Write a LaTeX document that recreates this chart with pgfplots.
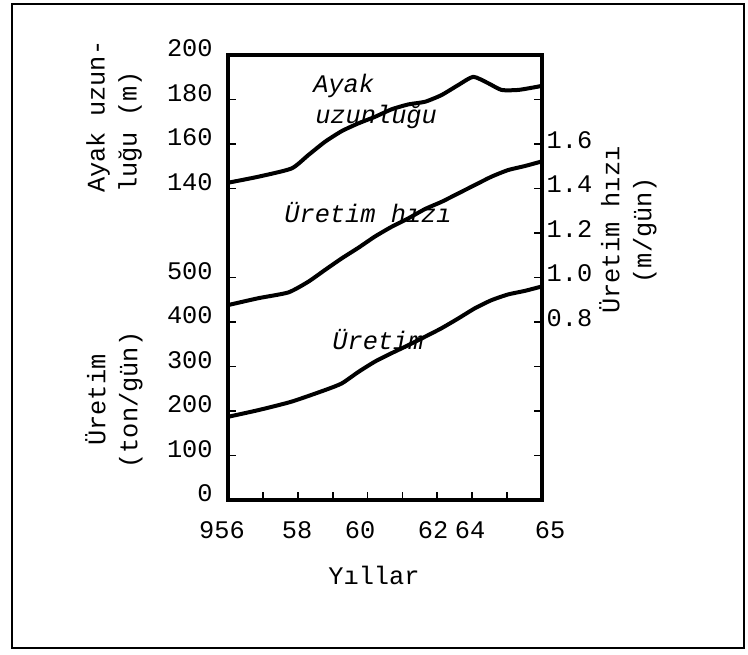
\documentclass[border=0pt]{standalone}
\usepackage{fontspec}
\setmainfont{Liberation Mono}
\usepackage{pgfplots}
\pgfplotsset{compat=1.18}
\usepackage{pgfplotstable}

% Ayak uzunlugu (m)
\pgfplotstableread{
year m
1956.00 142.6
1956.87 145.3
1957.82 149.0
1958.30 155.0
1958.78 161.0
1959.26 165.8
1959.74 169.3
1960.21 172.2
1960.69 175.6
1961.17 177.8
1961.65 179.0
1962.12 182.0
1962.60 186.5
1963.03 190.2
1963.46 187.3
1963.84 184.3
1964.32 184.3
1964.89 185.8
1965.00 186.2
}\ayak

% Uretim hizi (m/gun)
\pgfplotstableread{
year r
1956.00 0.876
1956.87 0.907
1957.73 0.933
1958.30 0.981
1958.78 1.034
1959.26 1.086
1959.74 1.134
1960.21 1.184
1960.69 1.228
1961.17 1.266
1961.65 1.308
1962.12 1.340
1962.60 1.378
1963.08 1.416
1963.55 1.453
1964.03 1.483
1964.51 1.501
1965.00 1.522
}\hiz

% Uretim (ton/gun)
\pgfplotstableread{
year t
1956.00 187
1956.87 202
1957.82 221
1958.78 247
1959.26 262
1959.74 288
1960.21 311
1960.69 330
1961.17 348
1961.65 367
1962.12 386
1962.60 408
1963.08 431
1963.55 449
1964.03 462
1964.51 470
1965.00 480
}\uretim

\pgfplotsset{
  base/.style={
    scale only axis, width=235.5pt, height=333.75pt,
    at={(171pt,-375pt)}, anchor=south west,
    xmin=1956, xmax=1965,
    tick align=inside,
    major tick length=6pt,
    tick style={line width=1.4pt, black},
    tick label style={font=\fontsize{19}{23}\selectfont},
    axis line style={line width=2.8pt},
  },
  curve/.style={black, line width=3pt, smooth, tension=0.35, line join=round, line cap=round},
}

\begin{document}
\begin{tikzpicture}
\useasboundingbox (0pt,0pt) rectangle (561pt,-490.5pt);
\draw[line width=1.4pt] (9pt,-3pt) rectangle (558pt,-486pt);

% Production axis (left, lower scale) and x axis
\begin{axis}[base,
  ymin=0, ymax=1000,
  xtick={1957,1958,1959,1960,1961,1962,1963,1964},
  xticklabels={,,,,,,,,},
  xtick pos=bottom,
  ytick={0,100,200,300,400,500},
  yticklabels={0,100,200,300,400,500},
  ytick pos=left,
  yticklabel style={xshift=-8pt, yshift=5pt},
]
\addplot[curve] table[x=year, y=t] {\uretim};
\end{axis}

% Ayak uzunlugu axis (left, upper scale)
\begin{axis}[base,
  ymin=0, ymax=200,
  hide x axis,
  axis y line*=left,
  ytick={140,160,180,200},
  yticklabels={140,160,180,200},
  yticklabel style={xshift=-8pt, yshift=5pt},
]
\addplot[curve] table[x=year, y=m] {\ayak};
\end{axis}

% Uretim hizi axis (right)
\begin{axis}[base,
  ymin=0, ymax=2,
  hide x axis,
  axis y line*=right,
  ytick={0.2,0.4,0.6,0.8,1.0,1.2,1.4,1.6,1.8},
  yticklabels={,,,0.8,1.0,1.2,1.4,1.6,},
  yticklabel style={xshift=0pt, yshift=3pt},
]
\addplot[curve] table[x=year, y=r] {\hiz};
\end{axis}

\begin{scope}[every node/.style={font=\fontsize{19}{24}\selectfont, inner sep=0pt}]
% x tick labels, placed as in the original drawing
\node at (166.5pt,-397.5pt) {956};
\node at (222.75pt,-397.5pt) {58};
\node at (270pt,-397.5pt) {60};
\node at (324.75pt,-397.5pt) {62};
\node at (352.5pt,-397.5pt) {64};
\node at (412.5pt,-397.5pt) {65};
\node[rotate=90, anchor=west, align=left] at (85.5pt,-144.75pt) {Ayak uzun-\\luğu (m)};
\node[rotate=90, align=center] at (85.5pt,-300pt) {Üretim\\(ton/gün)};
\node[rotate=90, align=center] at (471pt,-172.5pt) {Üretim hızı\\(m/gün)};
\node[anchor=base west] at (234.75pt,-69pt) {\itshape Ayak};
\node[anchor=base west] at (236.25pt,-92.25pt) {\itshape uzunluğu};
\node at (276pt,-159.75pt) {\itshape Üretim hızı};
\node at (283.5pt,-255pt) {\itshape Üretim};
\node at (280.5pt,-431.25pt) {Yıllar};
\end{scope}
\end{tikzpicture}
\end{document}
